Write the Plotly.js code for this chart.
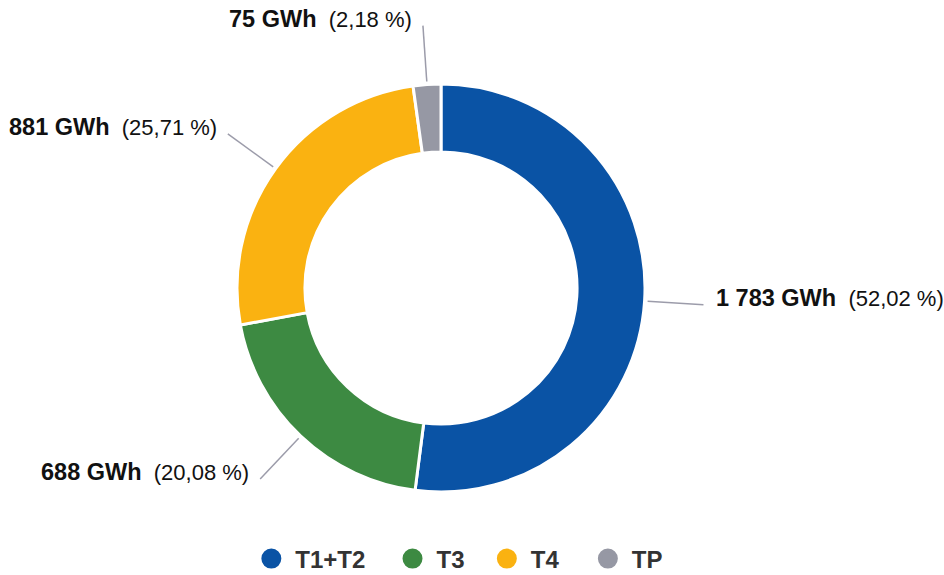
<!DOCTYPE html>
<html>
<head>
<meta charset="utf-8">
<script src="https://cdn.plot.ly/plotly-3.0.1.min.js"></script>
<style>html,body{margin:0;padding:0;background:#fff}#chart{width:944px;height:575px}</style>
</head>
<body>
<div id="chart"></div>
<script>
const labels = ['T1+T2', 'T3', 'T4', 'TP'];
const values = [1783, 688, 881, 75];
const valueLabels = ['1 783 GWh', '688 GWh', '881 GWh', '75 GWh'];
const pctLabels = ['(52,02 %)', '(20,08 %)', '(25,71 %)', '(2,18 %)'];
const colors = ['#0A53A5', '#3D8A42', '#FAB211', '#9698A4'];

const W = 944, H = 575;
const cx = 441, cy = 288, R = 204;
const FONT = 'Liberation Sans, Arial, sans-serif';

const px2x = p => p / W;
const py2y = p => 1 - p / H;

const pie = {
  type: 'pie',
  labels: labels,
  values: values,
  sort: false,
  direction: 'clockwise',
  rotation: 0,
  hole: 0.667,
  textinfo: 'none',
  hoverinfo: 'none',
  showlegend: false,
  marker: {colors: colors, line: {color: '#ffffff', width: 3}},
  domain: {x: [px2x(cx - R), px2x(cx + R)], y: [py2y(cy + R), py2y(cy - R)]}
};

const legendPad = ['\u00a0\u00a0\u2009', '\u00a0\u00a0', '\u00a0\u00a0\u00a0', ''];
const legendTraces = labels.map((l, i) => ({
  type: 'scatter', mode: 'markers', x: [null], y: [null],
  name: l + legendPad[i],
  marker: {color: colors[i], size: 16, symbol: 'circle', line: {color: colors[i], width: 4}},
  hoverinfo: 'none'
}));

const total = values.reduce((a, b) => a + b, 0);
const shapes = [];
const annotations = [];
let cum = 0;
values.forEach((v, i) => {
  const mid = (cum + v / 2) / total * 2 * Math.PI;
  cum += v;
  const sx = Math.sin(mid), sy = -Math.cos(mid);
  const r1 = R + 3, r2 = R + 59;
  const x1 = cx + r1 * sx, y1 = cy + r1 * sy;
  const x2 = cx + r2 * sx, y2 = cy + r2 * sy;
  shapes.push({type: 'line', xref: 'paper', yref: 'paper',
    x0: px2x(x1), y0: py2y(y1), x1: px2x(x2), y1: py2y(y2),
    line: {color: '#9C9CAA', width: 1.5}});
  const right = sx > 0;
  annotations.push({
    xref: 'paper', yref: 'paper',
    x: px2x(x2 + (right ? 11 : -9)), y: py2y(y2 - 7),
    xanchor: right ? 'left' : 'right', yanchor: 'middle',
    showarrow: false,
    text: '<b><span style="font-size:23.5px">' + valueLabels[i] + '</span></b>\u00a0\u00a0' + pctLabels[i],
    font: {family: FONT, size: 22, color: '#111111'}
  });
});

const layout = {
  width: W, height: H,
  margin: {l: 0, r: 0, t: 0, b: 0, autoexpand: false},
  paper_bgcolor: '#ffffff', plot_bgcolor: '#ffffff',
  xaxis: {visible: false}, yaxis: {visible: false},
  showlegend: true,
  legend: {orientation: 'h', x: 0.485, xanchor: 'center', y: py2y(559), yanchor: 'middle',
    itemwidth: 38,
    font: {family: FONT, size: 24, color: '#333333', weight: 'bold'}},
  shapes: shapes,
  annotations: annotations
};

Plotly.newPlot('chart', [pie].concat(legendTraces), layout, {staticPlot: true, displayModeBar: false});
</script>
</body>
</html>
